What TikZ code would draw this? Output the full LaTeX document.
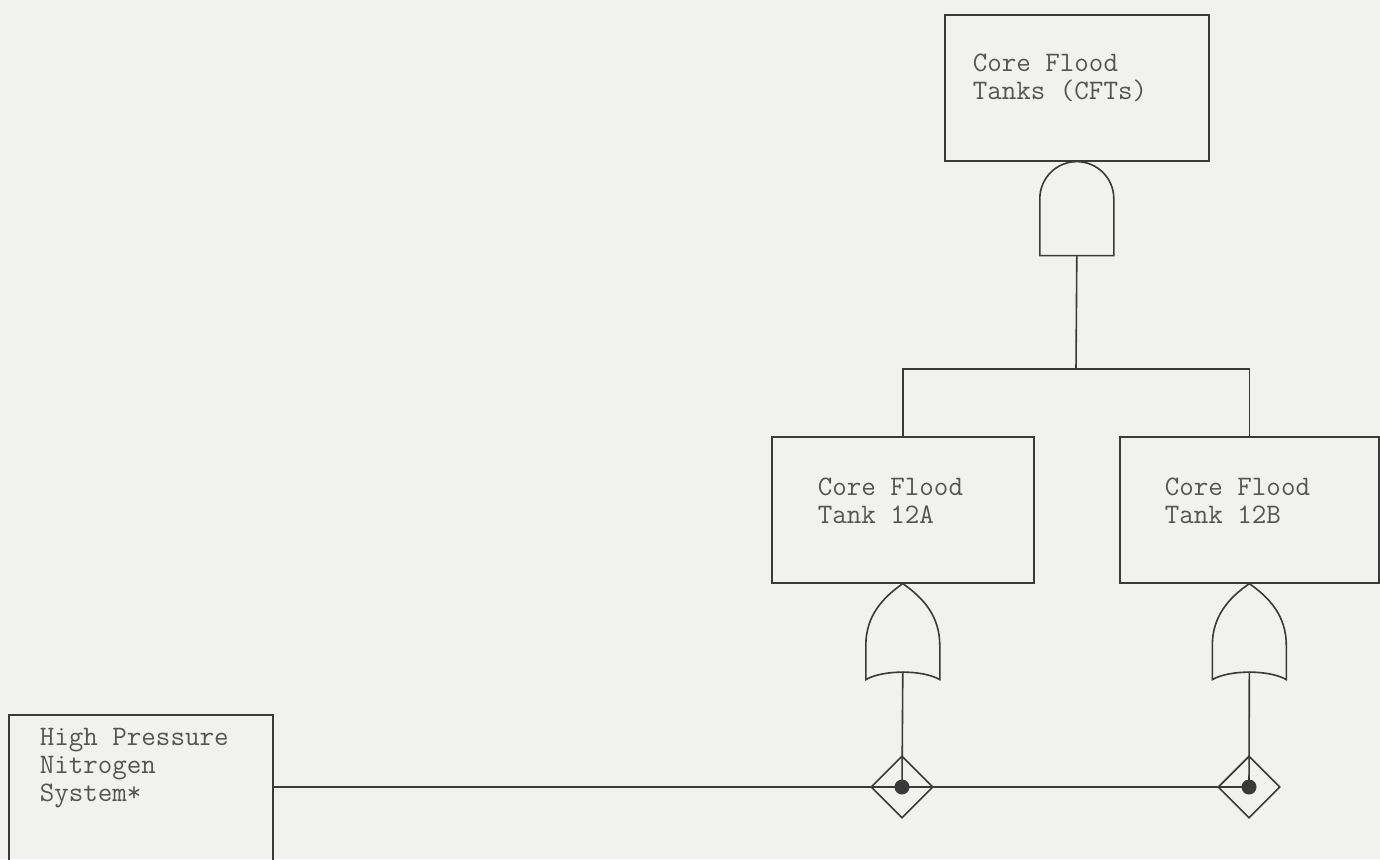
\documentclass[tikz,border=0pt]{standalone}
\usepackage{fontspec}
\usetikzlibrary{positioning,shapes.geometric}

\definecolor{paper}{HTML}{F1F1EF}
\definecolor{ink}{HTML}{3A3A3A}
\definecolor{typed}{HTML}{555555}

\begin{document}
\begin{tikzpicture}[x=0.5pt, y=-0.5pt, line width=0.8pt,
  box/.style={draw=ink, rectangle, anchor=north west, inner sep=0pt},
  boxtext/.style={text=typed, align=left, inner sep=0pt,
                  font={\ttfamily\fontsize{14.1}{14}\selectfont}},
  gate/.style={draw=ink, fill=paper},
  wire/.style={draw=ink},
  valve/.style={draw=ink, diamond, minimum size=31pt, inner sep=0pt},
  joint/.style={fill=ink, circle, minimum size=7.5pt, inner sep=0pt}]

\fill [paper] (0,0) rectangle (1380,859);
\useasboundingbox (0,0) rectangle (1380,859);

\node [box, minimum width=132pt, minimum height=73pt] (cfts) at (944,14) {};
\node [boxtext, below right=19.6pt and 14pt of cfts.north west] (cfts-text)
  {Core Flood\\Tanks (CFTs)};

\node [box, minimum width=131pt, minimum height=73pt] (tanka) at (771,436) {};
\node [boxtext, below right=20.6pt and 23pt of tanka.north west] (tanka-text)
  {Core Flood\\Tank 12A};

\node [box, minimum width=129.5pt, minimum height=73pt] (tankb) at (1119,436) {};
\node [boxtext, below right=20.6pt and 22.5pt of tankb.north west] (tankb-text)
  {Core Flood\\Tank 12B};

\node [box, minimum width=132pt, minimum height=90pt] (hpn) at (8,714) {};
\node [boxtext, below right=6.6pt and 15.5pt of hpn.north west] (hpn-text)
  {High Pressure\\Nitrogen\\System*};


\begin{scope}[shift={(cfts.south)}]
\draw [gate] (-37,94) -- (-37,37) .. controls (-37,16.6) and (-20.4,0) .. (0,0)
             .. controls (20.4,0) and (37,16.6) .. (37,37) -- (37,94) -- cycle;
\coordinate (and-out) at (0,94);
\end{scope}

\begin{scope}[shift={(tanka.south)}]
\draw [gate] (0,0) .. controls (20,14) and (37,32) .. (37,62) -- (37,96)
             .. controls (20,86) and (-20,86) .. (-37,96) -- (-37,62)
             .. controls (-37,32) and (-20,14) .. (0,0) -- cycle;
\coordinate (ora-out) at (0,88);
\end{scope}

\begin{scope}[shift={(tankb.south)}]
\draw [gate] (0,0) .. controls (20,14) and (37,32) .. (37,62) -- (37,96)
             .. controls (20,86) and (-20,86) .. (-37,96) -- (-37,62)
             .. controls (-37,32) and (-20,14) .. (0,0) -- cycle;
\coordinate (orb-out) at (0,88);
\end{scope}


\coordinate (bus) at (1076,369);
\draw [wire] (and-out) -- (bus);
\draw [wire] (tanka.north) |- (bus) -| (tankb.north);

\node [valve] (valvea) at (902,787) {};
\node [valve] (valveb) at (1249,787) {};

\draw [wire] (ora-out) -- (valvea.center);
\draw [wire] (orb-out) -- (valveb.center);
\draw [wire] (hpn.east |- valvea.center) -- (valveb.center);

\node [joint] (jointa) at (valvea.center) {};
\node [joint] (jointb) at (valveb.center) {};

\end{tikzpicture}
\end{document}
